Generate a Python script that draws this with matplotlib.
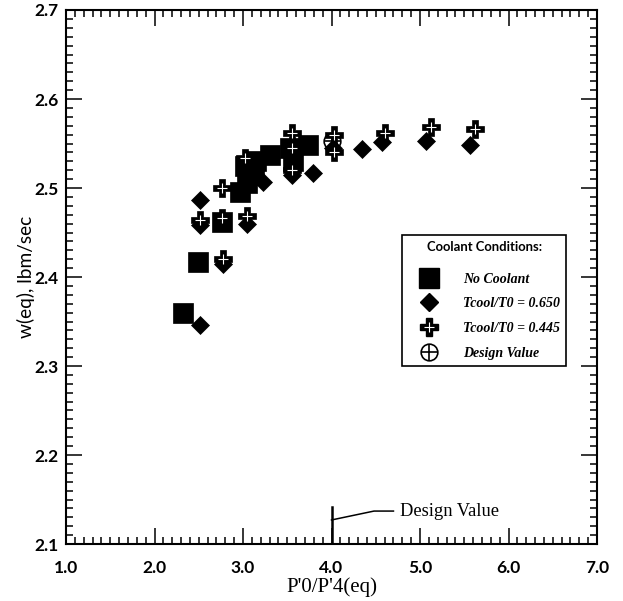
import matplotlib
matplotlib.use("Agg")
import matplotlib.pyplot as plt
from matplotlib.ticker import MultipleLocator, FormatStrFormatter
from matplotlib.legend_handler import HandlerTuple
from matplotlib.lines import Line2D

# data
no_cool_x = [2.32, 2.49, 2.76, 2.97, 3.05, 3.12, 3.02, 3.15, 3.30, 3.53, 3.56, 3.73]
no_cool_y = [2.360, 2.417, 2.462, 2.495, 2.506, 2.515, 2.525, 2.530, 2.537, 2.545, 2.530, 2.548]

t650_x = [2.51, 2.51, 2.51, 2.77, 3.05, 3.23, 3.55, 3.79, 4.02, 4.34, 4.57, 5.07, 5.57]
t650_y = [2.346, 2.486, 2.458, 2.415, 2.460, 2.507, 2.515, 2.517, 2.545, 2.544, 2.552, 2.553, 2.548]

t445_x = [2.51, 2.77, 2.76, 2.76, 3.02, 3.05, 3.55, 3.55, 3.55, 4.03, 4.03, 4.60, 5.12, 5.62]
t445_y = [2.464, 2.420, 2.500, 2.466, 2.534, 2.468, 2.562, 2.545, 2.520, 2.560, 2.540, 2.562, 2.568, 2.566]

design_x = [4.0]
design_y = [2.553]

design_ratio = 4.0

fig = plt.figure(figsize=(6.23, 6.01), dpi=100)
ax = fig.add_axes([66 / 623, 1 - 544 / 601, 531 / 623, 534 / 601])

# design value first so the clusters sit on top of it
ax.plot(design_x, design_y, ls="none", marker="o", ms=12, mfc="white", mec="k", mew=1.2)
ax.plot(design_x, design_y, ls="none", marker="+", ms=12, color="k", mew=1.2)

ax.plot(no_cool_x, no_cool_y, ls="none", marker="s", ms=14, color="k", mew=0.5)
ax.plot(t650_x, t650_y, ls="none", marker="D", ms=9, color="k", mew=0.5)
ax.plot(t445_x, t445_y, ls="none", marker="P", ms=13, color="k", mew=0.5)
ax.plot(t445_x, t445_y, ls="none", marker="+", ms=7, color="white", mew=0.8)

ax.set_xlim(1.0, 7.0)
ax.set_ylim(2.1, 2.7)
ax.xaxis.set_major_locator(MultipleLocator(1.0))
ax.xaxis.set_minor_locator(MultipleLocator(0.1))
ax.yaxis.set_major_locator(MultipleLocator(0.1))
ax.yaxis.set_minor_locator(MultipleLocator(0.01))
ax.xaxis.set_major_formatter(FormatStrFormatter("%.1f"))
ax.yaxis.set_major_formatter(FormatStrFormatter("%.1f"))

ax.tick_params(which="both", direction="in", top=True, right=True, width=1.1)
ax.tick_params(which="major", length=11.5)
ax.tick_params(which="minor", length=5)
ax.tick_params(axis="x", pad=11.5)
ax.tick_params(axis="y", pad=5.5)
for s in ax.spines.values():
    s.set_linewidth(1.5)

for lab in ax.get_xticklabels() + ax.get_yticklabels():
    lab.set_fontfamily("Lato")
    lab.set_fontweight("bold")
    lab.set_fontsize(12.5)

ax.set_xlabel("P'0/P'4(eq)", fontfamily="Liberation Serif", fontsize=15)
ax.set_ylabel("w(eq), lbm/sec", fontfamily="Lato", fontsize=13.8)
ax.xaxis.set_label_coords(0.5, -0.062)
ax.yaxis.set_label_coords(-0.058, 0.5)

# design value marker on the x axis
ax.plot([design_ratio, design_ratio], [2.1, 2.142], color="k", lw=1.8)
ax.plot([design_ratio, 4.48, 4.70], [2.127, 2.137, 2.137], color="k", lw=1.1)
ax.text(4.77, 2.137, "Design Value", fontfamily="Liberation Serif", fontsize=13.3, va="center", ha="left")

# legend
h_sq = Line2D([], [], ls="none", marker="s", ms=14, color="k")
h_d = Line2D([], [], ls="none", marker="D", ms=9, color="k")
h_p1 = Line2D([], [], ls="none", marker="P", ms=13, color="k")
h_p2 = Line2D([], [], ls="none", marker="+", ms=7, color="white", mew=0.8)
h_o1 = Line2D([], [], ls="none", marker="o", ms=12, mfc="white", mec="k", mew=1.2)
h_o2 = Line2D([], [], ls="none", marker="+", ms=12, color="k", mew=1.2)

leg = ax.legend([h_sq, h_d, (h_p1, h_p2), (h_o1, h_o2)],
                ["No Coolant", "Tcool/T0 = 0.650", "Tcool/T0 = 0.445", "Design Value"],
                handler_map={tuple: HandlerTuple(ndivide=1)},
                title="Coolant Conditions:", loc="upper left",
                bbox_to_anchor=(0.633, 0.579), borderaxespad=0, borderpad=0.45,
                handlelength=3.0, handletextpad=0.94, labelspacing=0.84,
                fancybox=False, edgecolor="k", framealpha=1,
                prop={"family": "Liberation Serif", "weight": "bold", "style": "italic", "size": 10})
leg.get_frame().set_linewidth(1.2)
leg.get_title().set_fontfamily("Lato")
leg.get_title().set_fontweight("bold")
leg.get_title().set_fontsize(9.4)
leg._legend_box.sep = 14

fig.savefig("out.png", dpi=100)
